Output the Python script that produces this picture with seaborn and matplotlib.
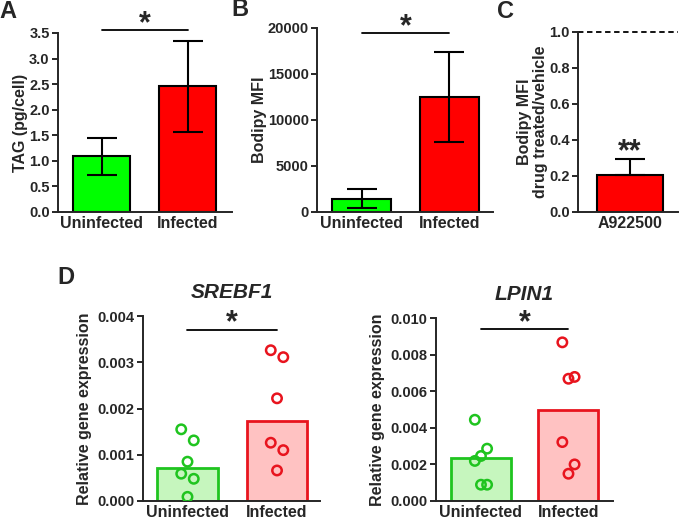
# %%
# import libraries
import numpy as np
import pandas as pd
import seaborn as sns
import matplotlib.pyplot as plt

# %%
# data
groups = ["Uninfected", "Infected"]

# A: TAG content, mean and SD
tag_mean = [1.09, 2.46]
tag_sd = [0.36, 0.89]

# B: Bodipy MFI, mean and SD
mfi_mean = [1430, 12520]
mfi_sd = [1040, 4860]

# C: drug treated / vehicle
drug = ["A922500"]
ratio_mean = [0.206]
ratio_sd = [0.089]

# D: relative gene expression, single replicates
srebf1_uninf = [0.00155, 0.00131, 0.00085, 0.00059, 0.00048, 0.00009]
srebf1_inf = [0.00326, 0.00311, 0.00222, 0.00126, 0.00110, 0.00066]
lpin1_uninf = [0.00444, 0.00286, 0.00246, 0.00219, 0.00089, 0.00089]
lpin1_inf = [0.00867, 0.00678, 0.00668, 0.00322, 0.00200, 0.00149]

# %%
# style
sns.set_style("ticks")
plt.rcParams["font.family"] = ["Liberation Sans", "DejaVu Sans"]
plt.rcParams["font.weight"] = "bold"
plt.rcParams["axes.labelweight"] = "bold"
plt.rcParams["axes.linewidth"] = 1.4

W, H = 679, 519
fig = plt.figure(figsize=(W / 100, H / 100), dpi=100)


def add_ax(left, top, right, bottom):
    return fig.add_axes([left / W, 1 - bottom / H, (right - left) / W, (bottom - top) / H])


def style_ax(ax, ticks, fmt, xlim):
    sns.despine(ax=ax)
    ax.set_ylim(ticks[0], ticks[-1])
    ax.set_yticks(ticks)
    ax.set_yticklabels([fmt.format(t) for t in ticks])
    ax.set_xlim(*xlim)
    ax.set_xlabel("")
    ax.tick_params(axis="y", length=4, width=1.4, labelsize=10.5, pad=2)
    ax.tick_params(axis="x", length=0, labelsize=11.5, pad=3)


def mean_bars(ax, cats, means, sds, colors, width, both=True):
    df = pd.DataFrame({"group": cats, "value": means})
    sns.barplot(data=df, x="group", y="value", hue="group", palette=colors,
                saturation=1, edgecolor="black", linewidth=1.5, width=width,
                errorbar=None, legend=False, ax=ax)
    yerr = sds if both else [np.zeros(len(sds)), sds]
    ax.errorbar(np.arange(len(cats)), means, yerr=yerr, fmt="none", ecolor="black",
                elinewidth=1.5, capsize=10.5, capthick=1.5)


def sig(ax, y_line, y_star, text="*"):
    ax.plot([0, 1], [y_line, y_line], color="black", lw=1.3, clip_on=False)
    ax.text(0.5, y_star, text, ha="center", va="center", fontsize=22, clip_on=False)


# %%
# A - TAG
axA = add_ax(58, 33, 232, 212)
mean_bars(axA, groups, tag_mean, tag_sd, ["#00ff00", "#ff0000"], 0.66)
style_ax(axA, np.arange(0, 3.51, 0.5), "{:.1f}", (-0.506, 1.517))
axA.set_ylabel("TAG (pg/cell)", fontsize=11.5, labelpad=0.5)
sig(axA, 3.56, 3.68)

# %%
# B - Bodipy MFI
axB = add_ax(317, 28, 493, 212)
mean_bars(axB, groups, mfi_mean, mfi_sd, ["#00ff00", "#ff0000"], 0.67)
style_ax(axB, np.arange(0, 20001, 5000), "{:.0f}", (-0.509, 1.50))
axB.set_ylabel("Bodipy MFI", fontsize=11.5, labelpad=0.5)
sig(axB, 19460, 20110)

# %%
# C - drug treated / vehicle
axC = add_ax(578, 32, 678, 212)
mean_bars(axC, drug, ratio_mean, ratio_sd, ["#ff0000"], 0.66, both=False)
style_ax(axC, np.arange(0, 1.01, 0.2), "{:.1f}", (-0.52, 0.48))
axC.axhline(1.0, color="black", lw=1.3, ls=(0, (3, 2)), clip_on=False)
axC.set_ylabel("Bodipy MFI\ndrug treated/vehicle", fontsize=11.5, linespacing=1.1,
               labelpad=0.5)
axC.text(0, 0.333, "**", ha="center", va="center", fontsize=22)

# %%
# D - gene expression with single points


def gene_panel(ax, uninf, inf, ticks, title, xlim, width):
    df = pd.DataFrame({"group": np.repeat(groups, [len(uninf), len(inf)]),
                       "value": uninf + inf})
    sns.barplot(data=df, x="group", y="value", hue="group", estimator="median",
                errorbar=None, palette=["#c6f6be", "#ffc2c2"], saturation=1,
                linewidth=2.0, width=width, legend=False, ax=ax)
    edges = ["#1fc41f", "#e8141e"]
    for patch, ec in zip(ax.patches, edges):
        patch.set_edgecolor(ec)
    # column scatter: spread points left / right / centre by rank
    for i, vals in enumerate([uninf, inf]):
        vals = sorted(vals, reverse=True)
        xs = i + np.resize([-1, 1, 0], len(vals)) * 0.07
        sns.scatterplot(x=xs, y=vals, ax=ax, s=46, fc="none", ec=edges[i],
                        linewidth=1.8, zorder=3, legend=False)
    style_ax(ax, ticks, "{:.3f}", xlim)
    ax.set_xticks([0, 1])
    ax.set_xticklabels(groups)
    ax.set_ylabel("Relative gene expression", fontsize=11.5)
    ax.set_title(title, fontsize=15, fontstyle="italic", fontweight="bold", pad=13)


axD1 = add_ax(143, 316, 320, 501)
gene_panel(axD1, srebf1_uninf, srebf1_inf, np.arange(0, 0.0041, 0.001), "SREBF1",
           (-0.497, 1.48), 0.675)
sig(axD1, 0.0037, 0.00385)

axD2 = add_ax(436, 318, 613, 501)
gene_panel(axD2, lpin1_uninf, lpin1_inf, np.arange(0, 0.0101, 0.002), "LPIN1",
           (-0.514, 1.509), 0.686)
sig(axD2, 0.0094, 0.00973)

# %%
# panel letters
for letter, x, y in [("A", 8, 12), ("B", 240, 10), ("C", 505, 11), ("D", 66, 278)]:
    fig.text(x / W, 1 - y / H, letter, fontsize=17, ha="center", va="center")

fig.savefig("out.png", dpi=100)
